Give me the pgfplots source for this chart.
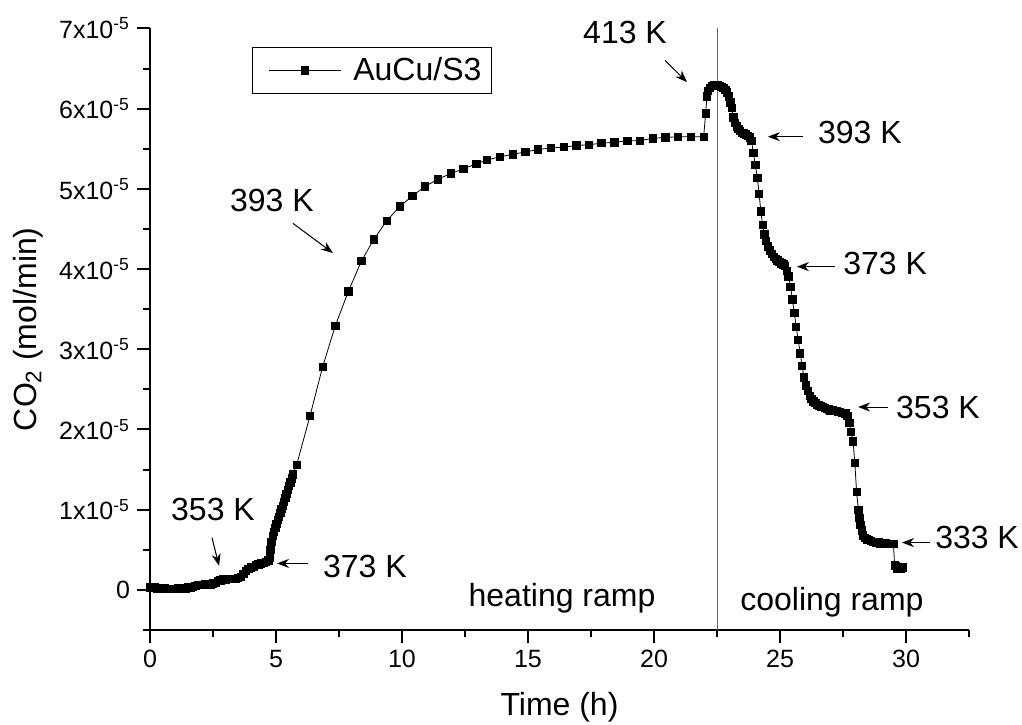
\documentclass[border=0pt]{standalone}
\usepackage{fontspec}
\setmainfont{Liberation Sans}
\usepackage{pgfplots}
\pgfplotsset{compat=1.18}
\usepackage{pgfplotstable}
\usetikzlibrary{arrows.meta}

% CO2 values in units of 1e-5 mol/min
\pgfplotstableread{
t y
0.0 0.03
0.1 0.03
0.2 0.03
0.3 0.02
0.4 0.02
0.5 0.02
0.6 0.02
0.7 0.01
0.8 0.01
0.9 0.01
1.0 0.01
1.1 0.02
1.2 0.02
1.3 0.02
1.4 0.02
1.5 0.03
1.6 0.03
1.7 0.04
1.8 0.05
1.9 0.06
2.0 0.06
2.1 0.06
2.2 0.07
2.3 0.07
2.4 0.07
2.5 0.08
2.6 0.09
2.7 0.11
2.8 0.12
2.9 0.13
3.0 0.13
3.1 0.14
3.2 0.14
3.3 0.14
3.4 0.14
3.5 0.15
3.6 0.16
3.7 0.20
3.8 0.24
3.9 0.26
4.0 0.28
4.1 0.29
4.2 0.31
4.3 0.32
4.4 0.33
4.5 0.34
4.6 0.35
4.7 0.37
4.75 0.40
4.78 0.50
4.82 0.60
4.87 0.67
4.92 0.72
4.97 0.77
5.02 0.82
5.07 0.87
5.12 0.91
5.17 0.96
5.22 1.01
5.27 1.05
5.32 1.10
5.37 1.15
5.42 1.20
5.47 1.25
5.52 1.30
5.57 1.34
5.62 1.39
5.67 1.44
5.82 1.56
6.35 2.17
6.85 2.78
7.35 3.29
7.87 3.72
8.39 4.10
8.88 4.37
9.39 4.60
9.91 4.78
10.41 4.91
10.91 5.03
11.43 5.12
11.93 5.19
12.43 5.25
12.95 5.31
13.37 5.36
13.89 5.40
14.39 5.43
14.89 5.46
15.40 5.49
15.91 5.51
16.42 5.52
16.92 5.54
17.42 5.55
17.92 5.57
18.43 5.58
18.94 5.60
19.44 5.60
19.95 5.63
20.46 5.64
20.96 5.65
21.47 5.65
21.97 5.65
22.05 5.94
22.10 6.15
22.15 6.22
22.22 6.26
22.30 6.28
22.38 6.29
22.45 6.29
22.53 6.29
22.60 6.28
22.68 6.27
22.75 6.26
22.83 6.23
22.90 6.20
22.97 6.15
23.03 6.08
23.08 6.01
23.15 5.89
23.22 5.82
23.28 5.78
23.35 5.75
23.42 5.72
23.50 5.70
23.57 5.69
23.65 5.68
23.72 5.66
23.80 5.64
23.87 5.60
23.94 5.45
24.02 5.30
24.10 5.14
24.17 4.94
24.24 4.72
24.31 4.55
24.38 4.43
24.45 4.35
24.53 4.28
24.60 4.23
24.68 4.19
24.75 4.15
24.83 4.13
24.90 4.11
24.98 4.09
25.05 4.07
25.13 4.06
25.20 4.04
25.27 3.98
25.34 3.91
25.42 3.78
25.49 3.62
25.57 3.45
25.64 3.28
25.72 3.12
25.80 2.95
25.88 2.79
25.95 2.65
26.03 2.55
26.10 2.48
26.18 2.42
26.25 2.38
26.33 2.35
26.40 2.33
26.48 2.31
26.55 2.30
26.63 2.29
26.70 2.28
26.78 2.27
26.85 2.26
26.93 2.25
27.00 2.24
27.08 2.24
27.15 2.23
27.23 2.23
27.30 2.22
27.38 2.22
27.45 2.21
27.53 2.21
27.60 2.20
27.68 2.17
27.75 2.08
27.82 1.97
27.90 1.85
27.97 1.58
28.04 1.22
28.11 1.00
28.15 0.90
28.19 0.81
28.24 0.74
28.30 0.68
28.37 0.65
28.45 0.63
28.52 0.62
28.60 0.61
28.68 0.60
28.75 0.60
28.83 0.59
28.90 0.59
28.98 0.58
29.05 0.58
29.13 0.58
29.20 0.58
29.28 0.57
29.35 0.57
29.43 0.57
29.50 0.57
29.55 0.31
29.58 0.30
29.65 0.27
29.72 0.26
29.80 0.27
29.85 0.28
}\datatable

\newcommand{\ann}{\fontsize{16}{19}\selectfont}
\newcommand{\tk}{\fontsize{12.5}{14}\selectfont}

\begin{document}
\begin{tikzpicture}
\begin{axis}[
  name=ax, at={(0,0)}, anchor=south west,
  scale only axis, width=409.5pt, height=300.8pt,
  xmin=0, xmax=32.5, ymin=-0.5, ymax=7,
  clip=false,
  axis lines=left,
  axis line style={-, line width=1pt},
  tick align=outside,
  major tick length=6.5pt, minor tick length=3.5pt,
  every tick/.style={black, line width=1pt},
  xtick={0,5,10,15,20,25,30},
  xticklabels={0,5,10,15,20,25,30},
  minor xtick={2.5,7.5,12.5,17.5,22.5,27.5,32.5},
  ytick={0,1,2,3,4,5,6,7},
  yticklabels={0,1x10\textsuperscript{-5},2x10\textsuperscript{-5},3x10\textsuperscript{-5},4x10\textsuperscript{-5},5x10\textsuperscript{-5},6x10\textsuperscript{-5},7x10\textsuperscript{-5}},
  minor ytick={-0.5,0.5,1.5,2.5,3.5,4.5,5.5,6.5},
  ticklabel style={font=\tk},
  xlabel={Time (h)},
  ylabel={CO\textsubscript{2} (mol/min)},
  every axis x label/.style={at={(axis description cs:0.5,-0.129)}, anchor=center, font=\ann},
  every axis y label/.style={at={(axis description cs:-0.149,0.5)}, anchor=center, rotate=90, font=\ann},
  legend style={at={(axis description cs:0.1245,0.969)}, anchor=north west,
    draw=black, line width=0.5pt, font=\ann, inner xsep=3pt, inner ysep=3pt,
    /tikz/every odd column/.append style={column sep=4pt}},
  legend cell align=left,
  legend image code/.code={\path (0pt,0pt); \draw[mark repeat=2,mark phase=2,line width=0.5pt] plot coordinates {(5pt,0pt) (23pt,0pt) (41pt,0pt)};},
]
\addplot[black!60, line width=0.5pt, forget plot] coordinates {(22.5,-0.5) (22.5,7)};
\addplot[black, line width=0.4pt, mark=square*, mark size=1.85pt, mark options={solid}] table[x=t,y=y] {\datatable};
\addlegendentry{AuCu/S3}

\tikzset{arr/.style={-{Stealth[length=6pt,width=4.5pt]}, line width=0.5pt}}
\node[font=\ann] at (axis cs:2.50,1.00) {353 K};
\draw[arr] (axis cs:2.46,0.65) -- (axis cs:2.74,0.30);
\node[font=\ann] at (axis cs:8.53,0.29) {373 K};
\draw[arr] (axis cs:6.27,0.33) -- (axis cs:5.04,0.33);
\node[font=\ann] at (axis cs:4.84,4.85) {393 K};
\draw[arr] (axis cs:5.67,4.57) -- (axis cs:7.26,4.20);
\node[font=\ann] at (axis cs:18.85,6.95) {413 K};
\draw[arr] (axis cs:20.44,6.60) -- (axis cs:21.31,6.33);
\node[font=\ann] at (axis cs:28.17,5.70) {393 K};
\draw[arr] (axis cs:25.91,5.65) -- (axis cs:24.52,5.65);
\node[font=\ann] at (axis cs:29.17,4.07) {373 K};
\draw[arr] (axis cs:27.18,4.03) -- (axis cs:25.67,4.03);
\node[font=\ann] at (axis cs:31.27,2.28) {353 K};
\draw[arr] (axis cs:29.29,2.28) -- (axis cs:28.10,2.28);
\node[font=\ann] at (axis cs:32.82,0.65) {333 K};
\draw[arr] (axis cs:30.95,0.59) -- (axis cs:29.84,0.59);
\node[font=\ann] at (axis cs:16.35,-0.11) {heating ramp};
\node[font=\ann] at (axis cs:27.06,-0.15) {cooling ramp};
\end{axis}
\pgfresetboundingbox
\path[use as bounding box] (ax.south west) ++(-75pt,-47pt) rectangle ++(511pt,362pt);
\end{tikzpicture}
\end{document}
